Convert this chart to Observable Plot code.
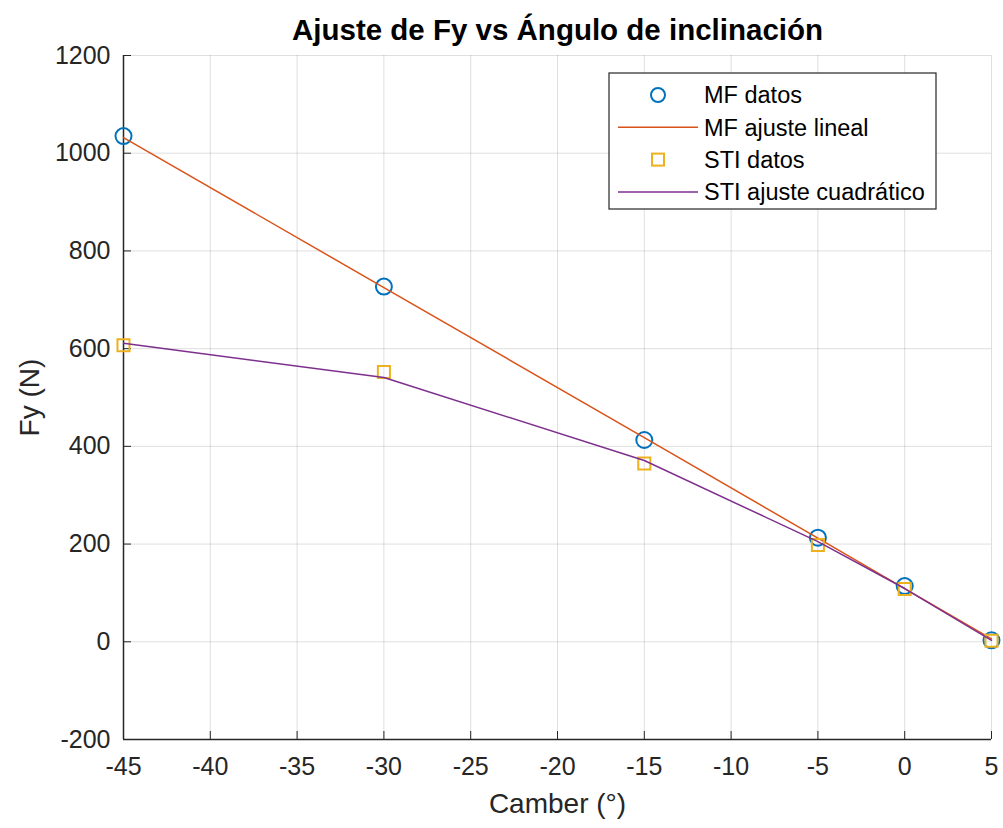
<!DOCTYPE html>
<html>
<head>
<meta charset="utf-8">
<script src="https://cdn.jsdelivr.net/npm/d3@7"></script>
<script src="https://cdn.jsdelivr.net/npm/@observablehq/plot@0.6"></script>
<style>
  html, body { margin: 0; padding: 0; background: #ffffff; }
  #chart svg { display: block; }
</style>
</head>
<body>
<div id="chart"></div>
<script>
// Camber angle (degrees) at which each lateral force was measured
const camber = [-45, -30, -15, -5, 0, 5];

// Magic Formula model: data points and linear fit
const mfDatos  = [1035, 727, 413, 213, 114, 3];
const mfAjuste = [1032, 725, 418, 212, 109, 6];

// STI model: data points and quadratic fit
const stiDatos  = [607, 552, 365, 198, 108, 2];
const stiAjuste = [611, 541, 371, 205, 109, 3];

// Axis ticks
const xTicks = [-45, -40, -35, -30, -25, -20, -15, -10, -5, 0, 5];
const yTicks = [-200, 0, 200, 400, 600, 800, 1000, 1200];

const colors = {
  mf: "#0072BD",
  mfFit: "#D95319",
  sti: "#EDB120",
  stiFit: "#7E2F8E"
};

const rows = (ys) => camber.map((c, i) => ({ x: c, y: ys[i] }));
const mf = rows(mfDatos), mfFit = rows(mfAjuste);
const sti = rows(stiDatos), stiFit = rows(stiAjuste);

const W = 1003, H = 828;
const mL = 123, mR = 12, mT = 55, mB = 89;
const frameW = W - mL - mR, frameH = H - mT - mB;
const tickLen = 8;
const axisColor = "#262626";
const font = "'Liberation Sans', Arial, Helvetica, sans-serif";
const plain = d => String(d);

const svg = Plot.plot({
  width: W,
  height: H,
  marginLeft: mL,
  marginRight: mR,
  marginTop: mT,
  marginBottom: mB,
  style: { fontFamily: font, background: "#ffffff", color: axisColor, overflow: "visible" },
  x: { domain: [-45, 5] },
  y: { domain: [-200, 1200] },
  marks: [
    Plot.gridX(xTicks, { stroke: axisColor, strokeOpacity: 0.15, strokeWidth: 1 }),
    Plot.gridY(yTicks, { stroke: axisColor, strokeOpacity: 0.15, strokeWidth: 1 }),
    // inward tick marks
    Plot.tickX(xTicks, { x: d => d, stroke: axisColor, strokeWidth: 1, insetTop: frameH - tickLen }),
    Plot.tickY(yTicks, { y: d => d, stroke: axisColor, strokeWidth: 1, insetRight: frameW - tickLen }),
    Plot.axisX(xTicks, { tickSize: 0, tickPadding: 18, fontSize: 25, label: null, fill: axisColor, tickFormat: plain }),
    Plot.axisY(yTicks, { tickSize: 0, tickPadding: 13, fontSize: 25, label: null, fill: axisColor, tickFormat: plain }),
    Plot.ruleX([-45], { stroke: axisColor, strokeWidth: 1.5 }),
    Plot.ruleY([-200], { stroke: axisColor, strokeWidth: 1.5 }),
    // series, in plotting order
    Plot.dot(mf, { x: "x", y: "y", r: 8, stroke: colors.mf, strokeWidth: 2, fill: "none" }),
    Plot.line(mfFit, { x: "x", y: "y", stroke: colors.mfFit, strokeWidth: 1.5 }),
    Plot.dot(sti, { x: "x", y: "y", r: 6.8, symbol: "square", stroke: colors.sti, strokeWidth: 2, fill: "none" }),
    Plot.line(stiFit, { x: "x", y: "y", stroke: colors.stiFit, strokeWidth: 1.5 }),
    // title and axis labels
    Plot.text(["Ajuste de Fy vs Ángulo de inclinación"], {
      frameAnchor: "top", dy: -25, fontSize: 29.5, fontWeight: "bold", fill: "#000000",
      lineAnchor: "middle", textAnchor: "middle"
    }),
    Plot.text(["Camber (°)"], {
      frameAnchor: "bottom", dy: 65, fontSize: 28, fill: axisColor, lineAnchor: "middle", textAnchor: "middle"
    }),
    Plot.text(["Fy (N)"], {
      frameAnchor: "left", dx: -93, rotate: -90, fontSize: 28, fill: axisColor,
      lineAnchor: "middle", textAnchor: "middle"
    })
  ]
});

// Legend box in the upper right of the axes
const legend = [
  { label: "MF datos", type: "circle", color: colors.mf },
  { label: "MF ajuste lineal", type: "line", color: colors.mfFit },
  { label: "STI datos", type: "square", color: colors.sti },
  { label: "STI ajuste cuadrático", type: "line", color: colors.stiFit }
];
const lg = d3.select(svg).append("g").attr("font-family", font).attr("text-anchor", "start");
const boxX = 609, boxY = 73, boxW = 327, boxH = 136, rowH = 32.3, row0 = boxY + 22;
lg.append("rect")
  .attr("x", boxX).attr("y", boxY).attr("width", boxW).attr("height", boxH)
  .attr("fill", "#ffffff").attr("stroke", axisColor).attr("stroke-width", 1.2);
legend.forEach((d, i) => {
  const cy = row0 + i * rowH;
  if (d.type === "circle") {
    lg.append("circle").attr("cx", 658).attr("cy", cy).attr("r", 7)
      .attr("fill", "none").attr("stroke", d.color).attr("stroke-width", 2);
  } else if (d.type === "square") {
    lg.append("rect").attr("x", 652).attr("y", cy - 6).attr("width", 12).attr("height", 12)
      .attr("fill", "none").attr("stroke", d.color).attr("stroke-width", 2);
  } else {
    lg.append("line").attr("x1", 618).attr("x2", 698).attr("y1", cy).attr("y2", cy)
      .attr("stroke", d.color).attr("stroke-width", 1.5);
  }
  lg.append("text").attr("x", 704).attr("y", cy).attr("dy", "0.35em").attr("text-anchor", "start")
    .attr("font-size", 23.5).attr("fill", "#000000").text(d.label);
});

document.getElementById("chart").appendChild(svg);
</script>
</body>
</html>
